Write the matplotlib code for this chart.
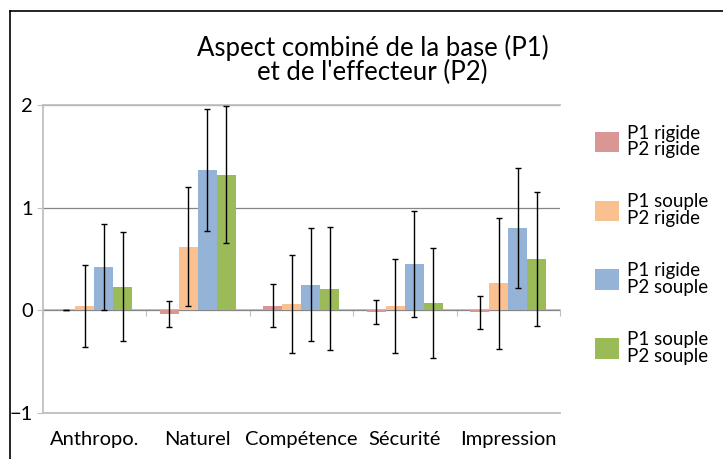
import numpy as np
import matplotlib.pyplot as plt
from matplotlib.lines import Line2D
from matplotlib.patches import Patch

plt.rcParams['font.family'] = ['Lato', 'DejaVu Sans']

categories = ["Anthropo.", "Naturel", "Compétence", "Sécurité", "Impression"]
series_names = ["P1 rigide\nP2 rigide", "P1 souple\nP2 rigide",
                "P1 rigide\nP2 souple", "P1 souple\nP2 souple"]

# mean score per category, one list per condition
rigide_rigide = [0.00, -0.04, 0.045, -0.02, -0.02]
souple_rigide = [0.04, 0.62, 0.06, 0.04, 0.26]
rigide_souple = [0.42, 1.37, 0.25, 0.45, 0.80]
souple_souple = [0.23, 1.32, 0.21, 0.07, 0.50]

# standard deviation per category
err_rigide_rigide = [0.00, 0.125, 0.21, 0.115, 0.16]
err_souple_rigide = [0.40, 0.58, 0.48, 0.46, 0.64]
err_rigide_souple = [0.42, 0.595, 0.55, 0.52, 0.585]
err_souple_souple = [0.53, 0.67, 0.60, 0.54, 0.655]

values = [rigide_rigide, souple_rigide, rigide_souple, souple_souple]
errors = [err_rigide_rigide, err_souple_rigide, err_rigide_souple, err_souple_souple]
colors = ["#D99694", "#FAC090", "#95B3D7", "#9BBB59"]

fig = plt.figure(figsize=(7.23, 4.59), dpi=100)
ax = fig.add_axes([0.059, 0.101, 0.7156, 0.670])

x = np.arange(len(categories))
width = 0.183
for i, (vals, errs, col) in enumerate(zip(values, errors, colors)):
    pos = x + (i - 1.5) * width
    ax.bar(pos, vals, width, color=col, zorder=2)
    ax.errorbar(pos, vals, yerr=errs, fmt="none", ecolor="black",
                elinewidth=1, capsize=2.5, capthick=1, zorder=3)

ax.set_xlim(-0.5, len(categories) - 0.5)
ax.set_ylim(-1, 2)
ax.set_yticks([-1, 0, 1, 2])
ax.set_xticks(x)
ax.set_xticklabels(categories, fontsize=14.5)
ax.tick_params(axis="x", length=0, pad=13)
ax.tick_params(axis="y", length=4, color="#BFBFBF", labelsize=14.5, pad=3)

ax.grid(axis="y", color="#868686", linewidth=0.9, zorder=0)
for side in ["top", "bottom", "left"]:
    ax.spines[side].set_color("#BFBFBF")
    ax.spines[side].set_linewidth(1.3)
ax.spines["right"].set_visible(False)

# horizontal axis crossing at zero, ticks between categories
zero_axis = ax.secondary_xaxis(1 / 3)
zero_axis.set_xticks(np.arange(len(categories) + 1) - 0.5)
zero_axis.tick_params(axis="x", direction="out", length=4, color="#BFBFBF",
                      labelbottom=False, labeltop=False, top=False, bottom=True)
zero_axis.spines["bottom"].set_color("#BFBFBF")
zero_axis.spines["top"].set_color("#BFBFBF")
zero_axis.spines["bottom"].set_linewidth(1.3)
zero_axis.spines["top"].set_linewidth(1.3)

fig.text(0.515, 0.869, "Aspect combiné de la base (P1)\net de l'effecteur (P2)",
         ha="center", va="center", fontsize=18.5, linespacing=0.95)

handles = [Patch(facecolor=c) for c in colors]
leg = fig.legend(handles, series_names, loc="upper left", bbox_to_anchor=(0.812, 0.745),
                 frameon=False, fontsize=13.5, handlelength=1.3, handleheight=1.3,
                 handletextpad=0.45, labelspacing=1.88, borderaxespad=0)
for t in leg.get_texts():
    t.set_linespacing(0.97)

# outer chart frame (left and top edges)
fig.add_artist(Line2D([0.0145, 0.0145], [0, 0.976], transform=fig.transFigure,
                      color="black", linewidth=1.2))
fig.add_artist(Line2D([0.0145, 1], [0.976, 0.976], transform=fig.transFigure,
                      color="black", linewidth=1.2))

fig.savefig("out.png", dpi=100)
